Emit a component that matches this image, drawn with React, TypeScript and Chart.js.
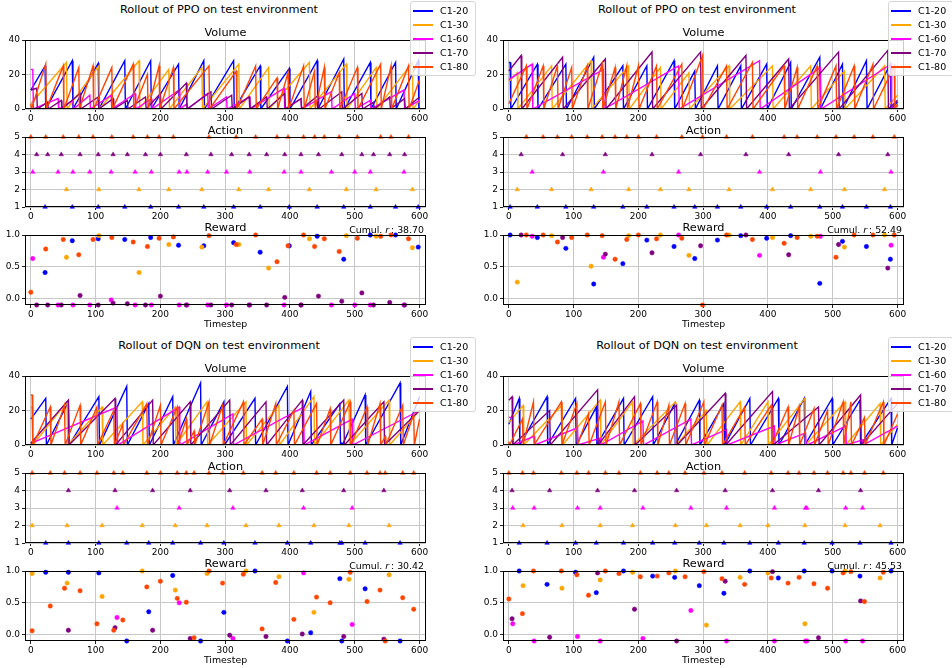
import React, { useEffect, useRef } from 'react';
import { Chart, registerables } from 'chart.js';

Chart.register(...registerables);

const FONT = "'DejaVu Sans', 'Liberation Sans', sans-serif";
const GRID = '#c8c8c8';
const X_MIN = -9;
const X_MAX = 610;

const seriesNames = ['C1-20', 'C1-30', 'C1-60', 'C1-70', 'C1-80'];
const seriesColors = ['#0000ff', '#ffa500', '#ff00ff', '#800080', '#ff4500'];
const actionLevels = [1, 2, 3, 4, 5];
const xTickValues = [0, 100, 200, 300, 400, 500, 600];
const volumeTickValues = [0, 20, 40];
const actionTickValues = [1, 2, 3, 4, 5];
const rewardTickValues = [0, 0.5, 1];

// ---------- PPO (top-left) ----------
const ppoLeftTimes = [
  [22, 64, 104, 145, 185, 228, 267, 313, 354, 399, 442, 483, 524, 563, 598],
  [55, 105, 167, 213, 264, 321, 367, 430, 487, 533, 589],
  [3, 42, 65, 91, 124, 161, 186, 229, 241, 273, 302, 338, 391, 417, 464, 500, 524, 576],
  [9, 26, 47, 76, 104, 127, 149, 177, 200, 240, 278, 310, 337, 364, 392, 417, 444, 480, 511, 529, 554, 577],
  [0, 23, 50, 74, 96, 125, 158, 180, 198, 220, 275, 317, 347, 380, 397, 421, 438, 453, 476, 504, 540, 556, 583],
];
const ppoLeftRewards = [
  [0.41, 0.91, 0.94, 0.93, 0.96, 0.84, 0.83, 0.88, 0.73, 0.83, 0.98, 0.62, 1.0, 1.0, 0.81],
  [0.65, 0.99, 0.41, 0.85, 0.81, 0.85, 0.48, 0.94, 0.99, 0.98, 0.8],
  [0.63, -0.1, -0.1, -0.1, -0.02, -0.1, -0.1, -0.1, -0.1, -0.1, -0.1, -0.1, -0.1, -0.1, -0.1, -0.1, -0.1, -0.1],
  [-0.1, -0.1, -0.1, 0.05, -0.1, -0.07, -0.08, -0.1, 0.04, -0.1, -0.1, -0.1, -0.1, -0.1, 0.02, -0.1, 0.04, -0.04, 0.09, -0.1, -0.06, -0.1],
  [0.1, 0.78, 0.93, 0.69, 0.93, 0.96, 0.89, 0.82, 0.95, 0.97, 0.99, 0.85, 1.0, 0.58, 0.83, 1.0, 0.82, 0.94, 0.74, 0.95, 0.98, 1.0, 0.94],
];
const ppoLeftPeaks = [
  [25, 28, 26.5, 28, 28, 26, 28, 28, 25, 23.5, 28, 29, 27, 27, 28],
  [27, 25, 28, 23, 24, 26, 24, 27, 26, 24, 27],
  [23, 6, 5, 8, 8, 9, 6, 11, 3, 9, 7, 7, 12, 6, 10, 9, 5, 11],
  [12, 4, 5, 9, 7, 6, 5, 7, 9, 15, 10, 8, 7, 7, 9, 6, 8, 10, 9, 4, 7, 6],
  [3, 26, 25, 24, 25, 24, 26, 20, 25, 24, 25, 22, 25, 18, 21, 25, 22, 24, 21, 24, 26, 25, 25],
];
const ppoLeftStart = [11, 3, 23, 11, 3];
const ppoLeftEnd = [1, 5, 5, 7, 17];

// ---------- PPO (top-right) ----------
const ppoRightTimes = [
  [2, 44, 88, 131, 176, 213, 255, 287, 322, 358, 398, 435, 480, 515, 552, 589],
  [13, 66, 127, 185, 234, 278, 340, 407, 466, 518, 580],
  [36, 146, 262, 387, 481, 590],
  [19, 83, 149, 221, 296, 366, 432, 509, 585],
  [27, 53, 75, 97, 121, 144, 164, 182, 200, 228, 267, 299, 336, 376, 425, 445, 476, 505, 533, 562, 595],
];
const ppoRightRewards = [
  [1.0, 0.96, 0.79, 0.23, 0.55, 0.92, 0.82, 0.63, 0.92, 0.99, 0.95, 0.99, 0.24, 0.9, 0.82, 0.62],
  [0.26, 0.99, 0.51, 0.99, 1.0, 0.68, 1.0, 0.96, 0.98, 0.81, 1.0],
  [0.98, 0.65, 1.0, 0.68, 0.98, 0.84],
  [1.0, 0.96, 0.7, 0.72, 0.83, 1.0, 0.69, 0.85, 0.48],
  [1.0, 1.0, 0.89, 0.96, 1.0, 0.99, 0.62, 0.93, 1.0, 0.94, 0.95, -0.1, 1.0, 0.93, 0.87, 0.96, 0.98, 0.65, 1.0, 1.0, 1.0],
];
const ppoRightPeaks = [
  [27, 26, 26, 30, 25, 25, 28, 22, 25, 25, 26, 27, 30, 26, 28, 26],
  [21, 25, 28, 25, 24, 21, 25, 25, 25, 22, 25],
  [26, 23, 25, 28, 24, 26],
  [31, 30, 29, 33, 33, 31, 29, 33, 34],
  [25, 25, 25, 24, 25, 26, 24, 25, 25, 25, 26, 31, 25, 27, 25, 24, 25, 25, 25, 26, 25],
];
const ppoRightStart = [27, 16, 17, 22, 3];
const ppoRightEnd = [4, 8, 2, 5, 3];

// ---------- DQN (bottom-left) ----------
const dqnLeftTimes = [
  [23, 58, 105, 148, 182, 219, 262, 298, 346, 396, 432, 477, 480, 516, 570],
  [2, 56, 110, 172, 223, 272, 332, 383, 437, 491, 553],
  [133, 229, 312, 421, 496],
  [58, 130, 188, 246, 307, 363, 419, 483, 545],
  [2, 30, 52, 76, 102, 128, 142, 179, 200, 226, 240, 252, 275, 296, 328, 357, 378, 406, 441, 462, 493, 519, 539, 547, 574, 591],
];
const dqnLeftRewards = [
  [0.98, 0.98, 0.97, -0.1, 0.36, 0.93, -0.1, 0.35, 1.0, -0.1, 0.03, 0.88, -0.1, 0.72, -0.1],
  [0.96, 0.81, 0.6, 1.0, 0.7, 0.96, 1.0, 0.91, 0.35, 0.87, 0.94],
  [0.27, 0.5, -0.06, 0.97, 0.16],
  [0.07, 0.11, 0.07, -0.06, -0.01, -0.03, 0.01, -0.03, -0.07],
  [0.06, 0.45, 0.73, 0.69, 0.17, 0.07, 0.23, 0.75, 0.84, 0.57, 0.51, -0.05, 1.0, 0.81, 0.95, 0.09, 0.82, 0.24, 0.59, 0.5, 0.98, 0.52, 0.7, -0.1, 0.58, 0.4],
];
const dqnLeftPeaks = [
  [27, 25, 28, 34, 24, 28, 36, 25, 27, 34, 31, 24, 1, 29, 36],
  [22, 25, 22, 25, 22, 25, 25, 23, 28, 26, 26],
  [22, 22, 18, 22, 15],
  [26, 27, 26, 25, 26, 25, 26, 26, 25],
  [29, 22, 23, 23, 22, 20, 12, 24, 23, 22, 15, 8, 25, 23, 25, 15, 24, 20, 24, 21, 25, 22, 24, 5, 23, 18],
];
const dqnLeftStart = [15, 22, 1, 1, 29];
const dqnLeftEnd = [28, 20, 20, 20, 15];

// ---------- DQN (bottom-right) ----------
const dqnRightTimes = [
  [16, 59, 103, 135, 177, 222, 256, 294, 332, 372, 416, 456, 499, 542, 590],
  [22, 82, 141, 191, 257, 305, 357, 400, 457, 519, 573],
  [6, 39, 106, 141, 207, 281, 336, 410, 458, 460, 520, 546],
  [5, 63, 137, 194, 259, 334, 407, 478, 543],
  [0, 21, 38, 81, 105, 123, 149, 170, 203, 229, 247, 272, 301, 329, 364, 405, 431, 448, 471, 492, 516, 528, 549, 578],
];
const dqnRightRewards = [
  [1.0, 0.79, 0.98, 0.66, 1.0, 0.92, 0.9, 0.77, 0.65, 1.0, 0.89, 1.0, 1.0, 0.92, 1.0],
  [0.77, 0.73, 0.86, 0.98, 1.0, 0.15, 0.9, 0.97, 0.17, 1.0, 0.89],
  [0.17, -0.1, -0.03, -0.1, -0.06, 0.38, -0.1, -0.1, -0.1, -0.1, -0.1, -0.1],
  [0.25, -0.04, 0.97, 0.4, -0.1, 0.84, 0.99, -0.05, 0.53],
  [0.56, 0.33, 1.0, 1.0, 0.94, 0.62, 1.0, 0.96, 0.91, 0.92, 0.97, 0.91, 0.99, 0.88, 0.79, 0.89, 0.81, 0.9, 0.8, 0.73, 0.97, 0.99, 0.52, 0.98],
];
const dqnRightPeaks = [
  [27, 28, 27, 22, 27, 28, 24, 26, 24, 27, 27, 27, 27, 26, 27],
  [23, 23, 26, 25, 25, 20, 25, 25, 27, 25, 24],
  [16, 5, 10, 4, 14, 15, 9, 11, 7, 0.5, 11, 3],
  [28, 20, 32, 28, 23, 30, 31, 22, 29],
  [2, 15, 25, 25, 24, 18, 25, 25, 24, 25, 23, 24, 25, 23, 22, 23, 22, 22, 21, 20, 25, 25, 16, 25],
];
const dqnRightStart = [12, 13, 16, 26, 2];
const dqnRightEnd = [10, 12, 11, 24, 18];

const panelTitles = [
  'Rollout of PPO on test environment',
  'Rollout of PPO on test environment',
  'Rollout of DQN on test environment',
  'Rollout of DQN on test environment',
];
const cumulRewards = ['38.70', '52.49', '30.42', '45.53'];

// ---------- layout constants ----------
const PLOT_LEFT = 25;
const PLOT_W = 401;
const YW = 25;
const PAD_T = 10;
const PAD_R = 16;

const framePlugin = {
  id: 'axesFrame',
  afterDatasetsDraw(chart: any) {
    const { ctx, chartArea: a } = chart;
    ctx.save();
    ctx.strokeStyle = '#000';
    ctx.lineWidth = 1;
    ctx.strokeRect(a.left + 0.5, a.top + 0.5, a.right - a.left - 1, a.bottom - a.top - 1);
    ctx.restore();
  },
};

function buildScales(yMin: number, yMax: number, yTicks: number[], yFormat: (v: any) => string, xHeight: number, showXTitle: boolean) {
  const grid = { color: GRID, lineWidth: 1, drawTicks: true, tickLength: 3, tickColor: '#222', tickWidth: 1 };
  return {
    x: {
      type: 'linear',
      min: X_MIN,
      max: X_MAX,
      afterBuildTicks: (axis: any) => {
        axis.ticks = xTickValues.map((value) => ({ value }));
      },
      afterFit: (axis: any) => {
        axis.height = xHeight;
      },
      ticks: {
        autoSkip: false,
        maxRotation: 0,
        minRotation: 0,
        padding: 1,
        color: '#000',
        font: { family: FONT, size: 9 },
        callback: (v: any) => String(v),
      },
      grid,
      border: { display: false },
      title: showXTitle
        ? { display: true, text: 'Timestep', color: '#000', font: { family: FONT, size: 9.4 }, padding: { top: 0, bottom: 0 } }
        : { display: false },
    },
    y: {
      type: 'linear',
      min: yMin,
      max: yMax,
      afterBuildTicks: (axis: any) => {
        axis.ticks = yTicks.map((value) => ({ value }));
      },
      afterFit: (axis: any) => {
        axis.width = YW;
      },
      ticks: {
        padding: 2,
        color: '#000',
        font: { family: FONT, size: 9 },
        callback: yFormat,
      },
      grid,
      border: { display: false },
    },
  };
}

function baseOptions(scales: any) {
  return {
    animation: false,
    responsive: false,
    maintainAspectRatio: false,
    events: [],
    layout: { padding: { top: PAD_T, right: PAD_R, left: 0, bottom: 0 } },
    plugins: { legend: { display: false }, tooltip: { enabled: false }, title: { display: false } },
    scales,
  };
}

function volumePoints(times: number[], peaks: number[], start: number, end: number) {
  const pts: { x: number; y: number }[] = [{ x: 0, y: start }];
  times.forEach((t, i) => {
    pts.push({ x: t, y: peaks[i] });
    pts.push({ x: t + 1, y: 0 });
  });
  pts.push({ x: 600, y: end });
  return pts;
}

function volumeConfig(times: number[][], peaks: number[][], start: number[], end: number[]) {
  const datasets = seriesNames.map((name, i) => ({
    label: name,
    data: volumePoints(times[i], peaks[i], start[i], end[i]),
    borderColor: seriesColors[i],
    backgroundColor: seriesColors[i],
    borderWidth: 1.4,
    pointRadius: 0,
    tension: 0,
    fill: false,
    order: 4 - i,
  }));
  return {
    type: 'line',
    data: { datasets },
    options: baseOptions(buildScales(0, 40, volumeTickValues, (v: any) => String(v), 15, false)),
    plugins: [framePlugin],
  };
}

function actionConfig(times: number[][]) {
  const datasets = seriesNames.map((name, i) => ({
    label: name,
    data: times[i].map((t) => ({ x: t, y: actionLevels[i] })),
    borderColor: seriesColors[i],
    backgroundColor: seriesColors[i],
    pointStyle: 'triangle',
    pointRadius: 2.6,
    pointBorderWidth: 0.5,
    showLine: false,
    clip: false,
    order: 4 - i,
  }));
  return {
    type: 'scatter',
    data: { datasets },
    options: baseOptions(buildScales(1, 5, actionTickValues, (v: any) => String(v), 15, false)),
    plugins: [framePlugin],
  };
}

function rewardConfig(times: number[][], rewards: number[][]) {
  const datasets = seriesNames.map((name, i) => ({
    label: name,
    data: times[i].map((t, j) => ({ x: t, y: rewards[i][j] })),
    borderColor: seriesColors[i],
    backgroundColor: seriesColors[i],
    pointStyle: 'circle',
    pointRadius: 2.2,
    pointBorderWidth: 0.5,
    showLine: false,
    clip: false,
    order: 4 - i,
  }));
  return {
    type: 'scatter',
    data: { datasets },
    options: baseOptions(buildScales(-0.1, 1.0, rewardTickValues, (v: any) => Number(v).toFixed(1), 25, true)),
    plugins: [framePlugin],
  };
}

function ChartCanvas({ left, top, width, height, config }: any) {
  const ref = useRef<HTMLCanvasElement | null>(null);
  useEffect(() => {
    if (!ref.current) return;
    const chart = new Chart(ref.current, config);
    return () => chart.destroy();
  }, []);
  return (
    <canvas
      ref={ref}
      width={width}
      height={height}
      style={{ position: 'absolute', left, top, width, height, display: 'block' }}
    />
  );
}

function Text({ x, y, size, align = 'center', children, style }: any) {
  const tx = align === 'center' ? '-50%' : align === 'right' ? '-100%' : '0';
  return (
    <div
      style={{
        position: 'absolute',
        left: x,
        top: y,
        transform: `translate(${tx}, -50%)`,
        fontFamily: FONT,
        fontSize: size,
        lineHeight: 1,
        whiteSpace: 'nowrap',
        color: '#000',
        zIndex: 3,
        ...style,
      }}
    >
      {children}
    </div>
  );
}

function Legend({ ox, oy }: any) {
  return (
    <div
      style={{
        position: 'absolute',
        left: ox + 410,
        top: oy + 1,
        width: 66,
        height: 75,
        boxSizing: 'border-box',
        background: 'rgba(255,255,255,0.8)',
        border: '1px solid #d6d6d6',
        borderRadius: 3,
        zIndex: 4,
      }}
    >
      {seriesNames.map((name, i) => (
        <div key={name} style={{ position: 'absolute', left: 0, top: 10 + i * 14 - 1, height: 0 }}>
          <div
            style={{
              position: 'absolute',
              left: 2,
              top: -1,
              width: 20,
              height: 2,
              background: seriesColors[i],
            }}
          />
          <div
            style={{
              position: 'absolute',
              left: 29,
              top: -6,
              fontFamily: FONT,
              fontSize: 9.5,
              lineHeight: '12px',
              whiteSpace: 'nowrap',
              color: '#000',
            }}
          >
            {name}
          </div>
        </div>
      ))}
    </div>
  );
}

function Panel({ ox, oy, index, times, rewards, peaks, start, end }: any) {
  const cx = ox + PLOT_LEFT + PLOT_W / 2;
  const canvasW = YW + PLOT_W + PAD_R;
  const vTop = 40, vH = 69;
  const aTop = 137, aH = 70;
  const rTop = 235, rH = 70;
  return (
    <>
      <ChartCanvas
        left={ox + PLOT_LEFT - YW}
        top={oy + vTop - PAD_T}
        width={canvasW}
        height={PAD_T + vH + 15}
        config={volumeConfig(times, peaks, start, end)}
      />
      <ChartCanvas
        left={ox + PLOT_LEFT - YW}
        top={oy + aTop - PAD_T}
        width={canvasW}
        height={PAD_T + aH + 15}
        config={actionConfig(times)}
      />
      <ChartCanvas
        left={ox + PLOT_LEFT - YW}
        top={oy + rTop - PAD_T}
        width={canvasW}
        height={PAD_T + rH + 25}
        config={rewardConfig(times, rewards)}
      />
      <Text x={ox + 219} y={oy + 10} size={11.3}>{panelTitles[index]}</Text>
      <Text x={cx} y={oy + 33} size={11.3}>Volume</Text>
      <Text x={cx} y={oy + 130.7} size={11.3}>Action</Text>
      <Text x={cx} y={oy + 228.3} size={11.3}>Reward</Text>
      <Text x={ox + 424} y={oy + 230} size={9.4} align="right">
        Cumul. <i>r</i>{'\u2009'}: {cumulRewards[index]}
      </Text>
      <Legend ox={ox} oy={oy} />
    </>
  );
}

export default function App() {
  return (
    <div
      style={{
        position: 'absolute',
        left: 0,
        top: 0,
        width: 952,
        height: 668,
        background: '#fff',
        overflow: 'hidden',
      }}
    >
      <Panel ox={0} oy={0} index={0} times={ppoLeftTimes} rewards={ppoLeftRewards} peaks={ppoLeftPeaks} start={ppoLeftStart} end={ppoLeftEnd} />
      <Panel ox={478} oy={0} index={1} times={ppoRightTimes} rewards={ppoRightRewards} peaks={ppoRightPeaks} start={ppoRightStart} end={ppoRightEnd} />
      <Panel ox={0} oy={336} index={2} times={dqnLeftTimes} rewards={dqnLeftRewards} peaks={dqnLeftPeaks} start={dqnLeftStart} end={dqnLeftEnd} />
      <Panel ox={478} oy={336} index={3} times={dqnRightTimes} rewards={dqnRightRewards} peaks={dqnRightPeaks} start={dqnRightStart} end={dqnRightEnd} />
    </div>
  );
}
